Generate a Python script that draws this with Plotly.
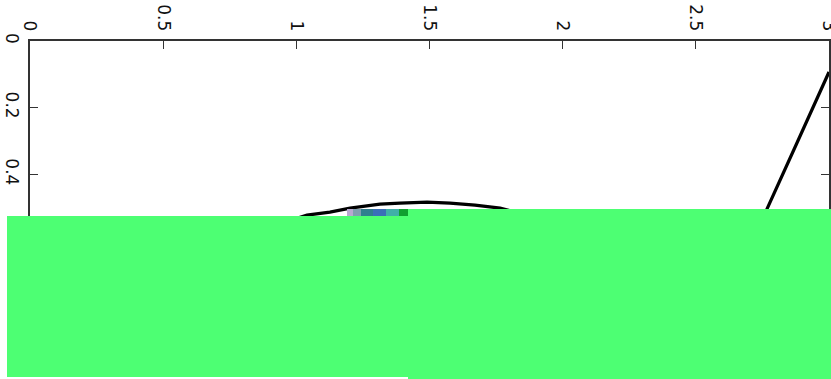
import plotly.graph_objects as go

# Data (y axis grows downward)
x_vals = [0.80, 0.95, 1.04, 1.126, 1.202, 1.314, 1.389, 1.491, 1.577, 1.671, 1.765, 1.95, 2.20, 2.45, 2.60, 2.767, 2.88, 3.0]
y_vals = [0.60, 0.545, 0.522, 0.513, 0.501, 0.489, 0.486, 0.483, 0.486, 0.492, 0.501, 0.54, 0.62, 0.78, 0.85, 0.504, 0.305, 0.093]

x_ticks = [0, 0.5, 1, 1.5, 2, 2.5, 3]
x_tick_text = ["0", "0.5", "1", "1.5", "2", "2.5", "3"]
y_ticks = [0, 0.2, 0.4]
y_tick_text = ["0", "0.2", "0.4"]

W, H = 831, 379
L, R, T, B = 30, 2, 41, 5
PW, PH = W - L - R, H - T - B


def px(x):
    return (x - L) / PW


def py(y):
    return (H - B - y) / PH


fig = go.Figure()
fig.add_trace(go.Scatter(x=x_vals, y=y_vals, mode="lines",
                         line=dict(color="black", width=3.2, shape="linear"),
                         hoverinfo="skip", showlegend=False))

font = dict(family="DejaVu Sans, sans-serif", size=17, color="#111")
axis_common = dict(showgrid=False, zeroline=False, showline=True, linecolor="#333", linewidth=1.5,
                   ticks="inside", ticklen=8, tickwidth=1, tickcolor="#333", mirror="ticks",
                   tickangle=90, tickfont=font, ticklabeloverflow="allow", automargin=False)

fig.update_layout(
    width=W, height=H,
    margin=dict(l=L, r=R, t=T, b=B, pad=0, autoexpand=False),
    paper_bgcolor="white", plot_bgcolor="white",
    xaxis=dict(range=[0, 3], side="top", tickvals=x_ticks, ticktext=x_tick_text,
               ticklabelstandoff=2, **axis_common),
    yaxis=dict(range=[PH / 333.5, 0], tickvals=y_ticks, ticktext=y_tick_text,
               ticklabelstandoff=2, **axis_common),
    shapes=[
        dict(type="rect", xref="paper", yref="paper", x0=px(7), x1=px(409), y0=py(377), y1=py(216),
             fillcolor="#4dff73", line=dict(width=0), layer="above"),
        dict(type="rect", xref="paper", yref="paper", x0=px(408), x1=px(835), y0=py(383), y1=py(209),
             fillcolor="#4dff73", line=dict(width=0), layer="above"),
        dict(type="rect", xref="paper", yref="paper", x0=px(347), x1=px(353), y0=py(216), y1=py(209),
             fillcolor="#b8a8d0", line=dict(width=0), layer="above"),
        dict(type="rect", xref="paper", yref="paper", x0=px(353), x1=px(361), y0=py(216), y1=py(209),
             fillcolor="#7f9fb0", line=dict(width=0), layer="above"),
        dict(type="rect", xref="paper", yref="paper", x0=px(361), x1=px(373), y0=py(216), y1=py(209),
             fillcolor="#2f7f8f", line=dict(width=0), layer="above"),
        dict(type="rect", xref="paper", yref="paper", x0=px(373), x1=px(386), y0=py(216), y1=py(209),
             fillcolor="#3a70b8", line=dict(width=0), layer="above"),
        dict(type="rect", xref="paper", yref="paper", x0=px(386), x1=px(399), y0=py(216), y1=py(209),
             fillcolor="#40b0a8", line=dict(width=0), layer="above"),
        dict(type="rect", xref="paper", yref="paper", x0=px(399), x1=px(408), y0=py(216), y1=py(209),
             fillcolor="#10a030", line=dict(width=0), layer="above"),
    ],
)

fig.write_html("out.html")
